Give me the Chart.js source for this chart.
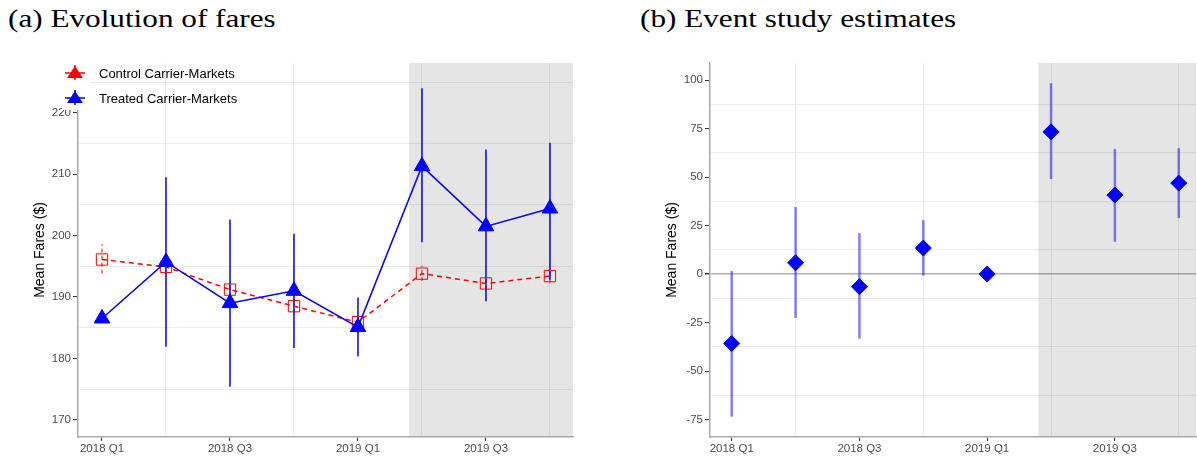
<!DOCTYPE html>
<html>
<head>
<meta charset="utf-8">
<script src="https://cdn.jsdelivr.net/npm/chart.js@4.4.1/dist/chart.umd.min.js"></script>
<style>
body{margin:0;background:#fff;width:1197px;height:456px;overflow:hidden;position:relative}
.ttl{position:absolute;top:6px;font-family:"Liberation Serif",serif;font-size:26px;line-height:26px;color:#000;white-space:nowrap;transform:scaleX(1.2);transform-origin:0 0}
#fares{position:absolute;left:0;top:0}
#event{position:absolute;left:620px;top:0}
</style>
</head>
<body>
<div class="ttl" style="left:8px">(a) Evolution of fares</div>
<div class="ttl" style="left:640px">(b) Event study estimates</div>
<canvas id="fares" width="590" height="456"></canvas>
<canvas id="event" width="585" height="456"></canvas>
<script>

// ===============================
// DATA
// ===============================

const quarters = ["2018 Q1","2018 Q2","2018 Q3","2018 Q4","2019 Q1","2019 Q2","2019 Q3","2019 Q4"]
const xTickLabels = ["2018 Q1","2018 Q3","2019 Q1","2019 Q3"]
const seriesNames = ["Control Carrier-Markets","Treated Carrier-Markets"]

const controlMean = [196.1,194.9,191.2,188.5,185.9,193.8,192.2,193.4]
const controlLo   = [193.8,193.7,190.0,187.3,184.7,192.6,191.1,192.3]
const controlHi   = [198.6,196.1,192.4,189.7,187.1,195.1,193.3,194.5]

const treatedMean = [186.5,195.7,189.0,191.0,185.1,211.3,201.5,204.4]
const treatedLo   = [186.5,181.9,175.4,181.7,180.3,198.9,189.3,192.8]
const treatedHi   = [186.5,209.5,202.6,200.3,189.9,224.0,214.0,215.1]

const eventEst = [-35.8,5.8,-6.5,13.4,0,73.3,40.7,46.9]
const eventLo  = [-73.5,-22.6,-33.3,-0.8,0,49.0,16.6,28.9]
const eventHi  = [1.6,34.6,21.1,27.8,0,98.4,64.4,64.9]

const fareTicks = [170,180,190,200,210,220]
const fareGrid  = [175,185,195,205,215,225]
const estTicks  = [-75,-50,-25,0,25,50,75,100]
const estGrid   = [-62.5,-37.5,-12.5,12.5,37.5,62.5,87.5]

const treatStart = 4.8

// ===============================
// HELPERS
// ===============================

const FONT = "Liberation Sans"
const CLEAR = "rgba(0,0,0,0)"
const GRID = "#ebebeb"

function pts(values){
return values.map((v,i)=>({x:i,y:v}))
}

function xAxis(min,max){
return {
type:"linear",
min:min,
max:max,
afterFit:s=>{ s.height = 19 },
afterBuildTicks:s=>{ s.ticks = quarters.map((q,i)=>({value:i})) },
ticks:{
autoSkip:false,
maxRotation:0,
padding:1,
color:"#4d4d4d",
font:{family:FONT,size:11.5},
callback:v=> xTickLabels.includes(quarters[v]) ? quarters[v] : ""
},
grid:{
color:c=> xTickLabels.includes(quarters[c.tick.value]) ? CLEAR : GRID,
tickColor:c=> xTickLabels.includes(quarters[c.tick.value]) ? "#333" : CLEAR,
tickLength:4
},
border:{color:"#aaaaaa",width:1.5}
}
}

function yAxis(min,max,tickList,gridList,width,titlePad){
return {
type:"linear",
min:min,
max:max,
afterFit:s=>{ s.width = width },
afterBuildTicks:s=>{
s.ticks = tickList.concat(gridList).sort((a,b)=>a-b).map(v=>({value:v}))
},
ticks:{
autoSkip:false,
padding:2,
color:"#4d4d4d",
font:{family:FONT,size:11.5},
callback:v=> tickList.includes(v) ? String(v) : ""
},
grid:{
color:c=>{
const v = c.tick.value
if(v===0 && tickList===estTicks) return "#b0b0b0"
return gridList.includes(v) ? GRID : CLEAR
},
lineWidth:c=> c.tick.value===0 ? 1.5 : 1,
tickColor:c=> tickList.includes(c.tick.value) ? "#333" : CLEAR,
tickLength:5
},
border:{color:"#aaaaaa",width:1.5},
title:{
display:true,
text:"Mean Fares ($)",
color:"#000",
font:{family:FONT,size:14},
padding:{top:titlePad,bottom:0}
}
}
}

// shaded post period + error bars, under the markers
const shadeAndBars = {
id:"shadeAndBars",
beforeDatasetsDraw(chart){
const ctx = chart.ctx
const a = chart.chartArea
const x = chart.scales.x
const y = chart.scales.y

ctx.save()
ctx.fillStyle = "rgba(0,0,0,0.1)"
const x0 = x.getPixelForValue(treatStart)
ctx.fillRect(x0, a.top, a.right-x0, a.bottom-a.top-1)

chart.data.datasets.forEach(ds=>{
if(!ds.errLo) return
ctx.strokeStyle = ds.errColor
ctx.lineWidth = ds.errWidth
ctx.setLineDash(ds.errDash || [])
ds.errLo.forEach((lo,i)=>{
const hi = ds.errHi[i]
if(lo===hi) return
const px = x.getPixelForValue(i)
ctx.beginPath()
ctx.moveTo(px, y.getPixelForValue(lo))
ctx.lineTo(px, y.getPixelForValue(hi))
ctx.stroke()
})
})
ctx.restore()
}
}

// legend keys drawn like ggplot (white key boxes over the plot)
const faresLegend = {
id:"faresLegend",
afterDraw(chart){
const ctx = chart.ctx
const colors = ["#ff0000","#0000ff"]
ctx.save()
ctx.fillStyle = "#fff"
ctx.fillRect(62,61,28,49)
seriesNames.forEach((name,i)=>{
const cx = 75
const cy = 73 + i*25
ctx.fillStyle = colors[i]
ctx.strokeStyle = colors[i]
ctx.beginPath()
ctx.moveTo(cx, cy-7)
ctx.lineTo(cx+8, cy+5)
ctx.lineTo(cx-8, cy+5)
ctx.closePath()
ctx.fill()
ctx.lineWidth = 1.5
ctx.beginPath()
ctx.moveTo(cx-10, cy)
ctx.lineTo(cx+10, cy)
ctx.moveTo(cx, cy-8)
ctx.lineTo(cx, cy+7)
ctx.stroke()
ctx.fillStyle = "#000"
ctx.font = "13px " + FONT
ctx.textBaseline = "middle"
ctx.fillText(name, 99, cy+1)
})
ctx.restore()
}
}

// ===============================
// (a) EVOLUTION OF FARES
// ===============================

new Chart(document.getElementById("fares"),{
type:"line",
data:{
datasets:[
{
label:seriesNames[0],
data:pts(controlMean),
order:2,
borderColor:"#ff0000",
borderWidth:1.5,
borderDash:[5,4],
pointStyle:"rect",
pointRadius:8,
pointBorderWidth:1,
pointBorderColor:"#ff0000",
pointBackgroundColor:CLEAR,
errLo:controlLo,
errHi:controlHi,
errColor:"#ff0000",
errWidth:1,
errDash:[4,3]
},
{
label:seriesNames[1],
data:pts(treatedMean),
order:1,
borderColor:"#0000ff",
borderWidth:1.5,
pointStyle:"triangle",
pointRadius:9,
pointBorderWidth:1,
pointBorderColor:"#0000ff",
pointBackgroundColor:"#0000ff",
errLo:treatedLo,
errHi:treatedHi,
errColor:"#0000ff",
errWidth:1.5
}
]
},
options:{
responsive:false,
animation:false,
layout:{padding:{top:63,left:0,right:17,bottom:0}},
plugins:{legend:{display:false},tooltip:{enabled:false}},
scales:{
x:xAxis(-0.375,7.36),
y:yAxis(167.2,228.1,fareTicks,fareGrid,78,32)
}
},
plugins:[shadeAndBars,faresLegend]
})

// ===============================
// (b) EVENT STUDY ESTIMATES
// ===============================

new Chart(document.getElementById("event"),{
type:"line",
data:{
datasets:[{
label:"Estimate",
data:pts(eventEst),
showLine:false,
pointStyle:"rectRot",
pointRadius:8,
pointBorderWidth:1,
pointBorderColor:"#0000ff",
pointBackgroundColor:"#0000ff",
errLo:eventLo,
errHi:eventHi,
errColor:"rgba(0,0,255,0.5)",
errWidth:2.5
}]
},
options:{
responsive:false,
animation:false,
layout:{padding:{top:63,left:0,right:0,bottom:0}},
plugins:{legend:{display:false},tooltip:{enabled:false}},
scales:{
x:xAxis(-0.34,7.27),
y:yAxis(-84,108.8,estTicks,estGrid,90,44)
}
},
plugins:[shadeAndBars]
})

</script>
</body>
</html>
